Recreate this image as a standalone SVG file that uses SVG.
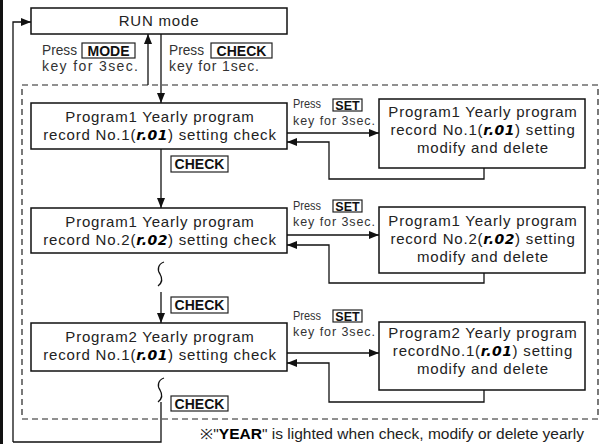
<svg xmlns="http://www.w3.org/2000/svg" width="604" height="444" viewBox="0 0 604 444">
<defs>
<marker id="ah" viewBox="0 0 10 8" refX="10" refY="4" markerWidth="10" markerHeight="8" markerUnits="userSpaceOnUse" orient="auto"><path d="M0,0 L10,4 L0,8 Z" fill="#111"/></marker>
<style>
.box{fill:#fff;stroke:#111;stroke-width:1.5}
.ln{fill:none;stroke:#111;stroke-width:1.3}
.arr{fill:none;stroke:#111;stroke-width:1.3;marker-end:url(#ah)}
.t{font-family:"Liberation Sans",Arial,sans-serif;font-size:15px;fill:#222;letter-spacing:0.8px}
.s{font-family:"Liberation Sans",Arial,sans-serif;font-size:14px;fill:#333}
.sr{font-family:"Liberation Sans",Arial,sans-serif;font-size:12.5px;fill:#333}
.k{font-family:"Liberation Sans",Arial,sans-serif;font-weight:bold;fill:#111}
.kb{fill:#fff;stroke:#222;stroke-width:1.2}
.seg{font-family:"DejaVu Sans",sans-serif;font-weight:bold;font-style:italic;font-size:14px;fill:#000;letter-spacing:0.5px}
.dash{fill:none;stroke:#222;stroke-width:1.2;stroke-dasharray:6,4}
</style>
</defs>
<rect x="0" y="0" width="3" height="444" fill="#111"/>
<rect class="dash" x="22" y="85" width="576" height="334"/>

<g id="connectors">
<path class="arr" d="M13,442 V22 H31"/>
<path class="ln" d="M161,402 V442 H13"/>
<path class="arr" d="M148,85 V34"/>
<path class="arr" d="M161,34 V103"/>
<path class="arr" d="M161,149 V208"/>
<path class="ln" d="M164,262 C158,264 157,270 160,274 C163,279 162,283 158,286"/>
<path class="arr" d="M161,292 V323"/>
<path class="ln" d="M164,378 C158,380 157,386 160,390 C163,395 162,399 158,402"/>
<path class="arr" d="M287,133 H379"/>
<path class="arr" d="M484,168 V179 H329 V142 H287"/>
<path class="arr" d="M287,235 H379"/>
<path class="arr" d="M484,273 V283 H329 V245 H287"/>
<path class="arr" d="M287,353 H379"/>
<path class="arr" d="M484,390 V402 H329 V363 H287"/>
</g>

<g id="run">
<rect class="box" x="31" y="8" width="256" height="26"/>
<text class="t" x="159" y="26" text-anchor="middle">RUN mode</text>
</g>

<g id="lbl-mode">
<text class="s" x="42" y="55" textLength="35" lengthAdjust="spacingAndGlyphs">Press</text>
<rect class="kb" x="82" y="43" width="53" height="15"/>
<text class="k" x="108.5" y="56" font-size="14" text-anchor="middle">MODE</text>
<text class="s" x="42" y="71" textLength="96" lengthAdjust="spacing">key for 3sec.</text>
</g>
<g id="lbl-check0">
<text class="s" x="169" y="55" textLength="35" lengthAdjust="spacingAndGlyphs">Press</text>
<rect class="kb" x="211" y="43" width="61" height="15"/>
<text class="k" x="241.5" y="56" font-size="14" text-anchor="middle">CHECK</text>
<text class="s" x="169" y="71" textLength="90" lengthAdjust="spacing">key for 1sec.</text>
</g>

<g id="check1">
<rect class="box" x="31" y="103" width="256" height="46"/>
<text class="t" x="160" y="122" text-anchor="middle">Program1 Yearly program</text>
<text class="t" x="160" y="140" text-anchor="middle">record No.1(<tspan class="seg">r.01</tspan>) setting check</text>
</g>
<g id="lbl-c1">
<rect class="kb" x="171" y="156" width="57" height="16"/>
<text class="k" x="199.5" y="169" font-size="14" text-anchor="middle">CHECK</text>
</g>

<g id="check2">
<rect class="box" x="31" y="208" width="256" height="45"/>
<text class="t" x="160" y="227" text-anchor="middle">Program1 Yearly program</text>
<text class="t" x="160" y="245" text-anchor="middle">record No.2(<tspan class="seg">r.02</tspan>) setting check</text>
</g>
<g id="lbl-c2">
<rect class="kb" x="171" y="297" width="57" height="16"/>
<text class="k" x="199.5" y="310" font-size="14" text-anchor="middle">CHECK</text>
</g>

<g id="check3">
<rect class="box" x="31" y="323" width="256" height="48"/>
<text class="t" x="160" y="342" text-anchor="middle">Program2 Yearly program</text>
<text class="t" x="160" y="360" text-anchor="middle">record No.1(<tspan class="seg">r.01</tspan>) setting check</text>
</g>
<g id="lbl-c3">
<rect class="kb" x="171" y="396" width="57" height="15"/>
<text class="k" x="199.5" y="408.5" font-size="14" text-anchor="middle">CHECK</text>
</g>

<g id="set1">
<text class="sr" x="293" y="108" textLength="28" lengthAdjust="spacingAndGlyphs">Press</text>
<rect class="kb" x="333" y="99" width="29" height="12"/>
<text class="k" x="347.5" y="109.5" font-size="12.5" text-anchor="middle">SET</text>
<text class="sr" x="293" y="125" textLength="82" lengthAdjust="spacing">key for 3sec.</text>
</g>
<g id="set2">
<text class="sr" x="293" y="210" textLength="28" lengthAdjust="spacingAndGlyphs">Press</text>
<rect class="kb" x="333" y="200" width="29" height="12"/>
<text class="k" x="347.5" y="210.5" font-size="12.5" text-anchor="middle">SET</text>
<text class="sr" x="293" y="226" textLength="82" lengthAdjust="spacing">key for 3sec.</text>
</g>
<g id="set3">
<text class="sr" x="293" y="320" textLength="28" lengthAdjust="spacingAndGlyphs">Press</text>
<rect class="kb" x="333" y="310" width="29" height="12"/>
<text class="k" x="347.5" y="320.5" font-size="12.5" text-anchor="middle">SET</text>
<text class="sr" x="293" y="336" textLength="82" lengthAdjust="spacing">key for 3sec.</text>
</g>

<g id="modify1">
<rect class="box" x="379" y="99" width="206" height="69"/>
<text class="t" x="483" y="117" text-anchor="middle">Program1 Yearly program</text>
<text class="t" x="483" y="135" text-anchor="middle">record No.1(<tspan class="seg">r.01</tspan>) setting</text>
<text class="t" x="483" y="153" text-anchor="middle">modify and delete</text>
</g>
<g id="modify2">
<rect class="box" x="379" y="207" width="206" height="66"/>
<text class="t" x="483" y="226" text-anchor="middle">Program1 Yearly program</text>
<text class="t" x="483" y="244" text-anchor="middle">record No.2(<tspan class="seg">r.02</tspan>) setting</text>
<text class="t" x="483" y="262" text-anchor="middle">modify and delete</text>
</g>
<g id="modify3">
<rect class="box" x="379" y="322" width="206" height="68"/>
<text class="t" x="483" y="338" text-anchor="middle">Program2 Yearly program</text>
<text class="t" x="483" y="356" text-anchor="middle">recordNo.1(<tspan class="seg">r.01</tspan>) setting</text>
<text class="t" x="483" y="374" text-anchor="middle">modify and delete</text>
</g>

<g id="note">
<text x="200" y="439" font-family="Liberation Sans, Arial, sans-serif" font-size="14" fill="#222" textLength="384" lengthAdjust="spacingAndGlyphs">※"<tspan font-weight="bold" fill="#000">YEAR</tspan>" is lighted when check, modify or delete yearly</text>
</g>
</svg>
